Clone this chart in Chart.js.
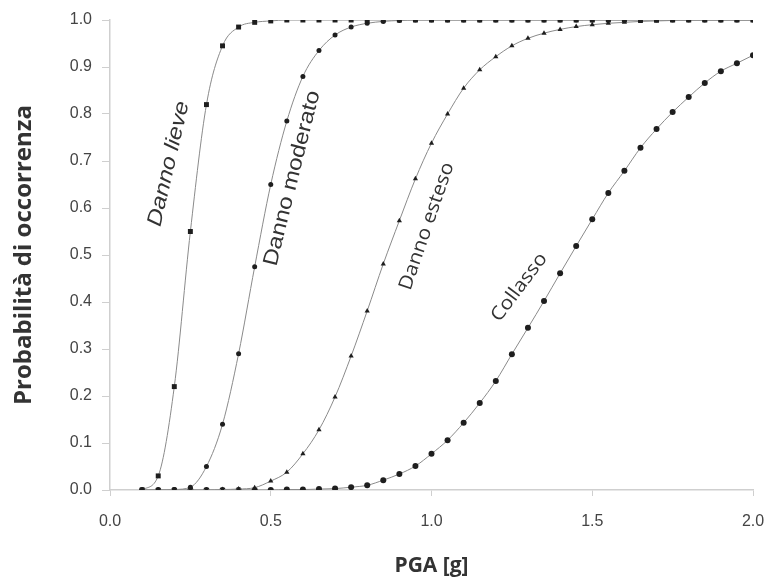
<!DOCTYPE html>
<html>
<head>
<meta charset="utf-8">
<script src="https://cdn.jsdelivr.net/npm/chart.js@4.4.0/dist/chart.umd.min.js"></script>
<style>
  html, body { margin: 0; padding: 0; background: #fff; }
  #wrap { width: 771px; height: 583px; }
</style>
</head>
<body>
<div id="wrap"><canvas id="grafico" width="771" height="583"></canvas></div>
<script>
// PGA [g]
const pga = [0.10,0.15,0.20,0.25,0.30,0.35,0.40,0.45,0.50,0.55,0.60,0.65,0.70,0.75,0.80,0.85,0.90,0.95,1.00,1.05,1.10,1.15,1.20,1.25,1.30,1.35,1.40,1.45,1.50,1.55,1.60,1.65,1.70,1.75,1.80,1.85,1.90,1.95,2.00];

const dannoLieve = [0.000,0.030,0.220,0.550,0.820,0.945,0.985,0.995,0.998,1,1,1,1,1,1,1,1,1,1,1,1,1,1,1,1,1,1,1,1,1,1,1,1,1,1,1,1,1,1];
const dannoModerato = [0.000,0.000,0.001,0.006,0.050,0.140,0.290,0.475,0.650,0.785,0.880,0.935,0.968,0.985,0.993,0.997,0.999,1,1,1,1,1,1,1,1,1,1,1,1,1,1,1,1,1,1,1,1,1,1];
const dannoEsteso = [0,0,0,0,0,0.001,0.002,0.005,0.019,0.038,0.077,0.128,0.198,0.285,0.381,0.481,0.573,0.662,0.738,0.800,0.855,0.894,0.922,0.945,0.961,0.972,0.980,0.986,0.990,0.993,0.995,0.997,0.998,0.999,1,1,1,1,1];
const collasso = [0,0,0,0,0,0,0,0,0,0.001,0.001,0.002,0.003,0.006,0.010,0.021,0.034,0.051,0.077,0.106,0.143,0.185,0.232,0.289,0.345,0.402,0.461,0.519,0.576,0.632,0.679,0.728,0.768,0.804,0.836,0.866,0.891,0.908,0.925];

const xTicks = [0.0, 0.5, 1.0, 1.5, 2.0];

// etichette sulle curve (posizione in unità dei dati)
const etichette = [
  { testo: 'Danno lieve',    x: 0.183, y: 0.694, angolo: -77, font: 'italic 21px "Liberation Sans", Arial, sans-serif', allunga: 1.15 },
  { testo: 'Danno moderato', x: 0.567, y: 0.663, angolo: -76, font: '21px "Liberation Sans", Arial, sans-serif', allunga: 1.15 },
  { testo: 'Danno esteso',   x: 0.986, y: 0.561, angolo: -71, font: '19px "Open Sans", sans-serif', allunga: 1.1 },
  { testo: 'Collasso',       x: 1.273, y: 0.431, angolo: -53, font: '19px "Open Sans", sans-serif', allunga: 1.1 }
];

function serie(valori) {
  return pga.map((x, i) => ({ x: x, y: valori[i] }));
}

function dataset(label, valori, stile, raggio) {
  return {
    label: label,
    data: serie(valori),
    borderColor: '#8a8a8a',
    borderWidth: 1,
    pointStyle: stile,
    pointRadius: raggio,
    pointBackgroundColor: '#1e1e1e',
    pointBorderColor: '#1e1e1e',
    pointBorderWidth: 0,
    cubicInterpolationMode: 'monotone',
    fill: false
  };
}

const etichettePlugin = {
  id: 'etichette',
  afterDatasetsDraw(chart) {
    const ctx = chart.ctx;
    const sx = chart.scales.x, sy = chart.scales.y;
    etichette.forEach(e => {
      ctx.save();
      ctx.translate(sx.getPixelForValue(e.x), sy.getPixelForValue(e.y));
      ctx.rotate(e.angolo * Math.PI / 180);
      ctx.scale(e.allunga, 1);
      ctx.font = e.font;
      ctx.fillStyle = '#333';
      ctx.textAlign = 'center';
      ctx.textBaseline = 'middle';
      ctx.fillText(e.testo, 0, 0);
      ctx.restore();
    });
  }
};

const graficoCtx = document.getElementById('grafico').getContext('2d');

new Chart(graficoCtx, {
  type: 'line',
  data: {
    datasets: [
      dataset('Danno lieve', dannoLieve, 'rect', 3.5),
      dataset('Danno moderato', dannoModerato, 'circle', 2.5),
      dataset('Danno esteso', dannoEsteso, 'triangle', 3),
      dataset('Collasso', collasso, 'circle', 3)
    ]
  },
  options: {
    responsive: false,
    animation: false,
    layout: { padding: { top: 20, right: 18, left: 0, bottom: 0 } },
    plugins: { legend: { display: false }, tooltip: { enabled: false } },
    scales: {
      x: {
        type: 'linear',
        min: 0, max: 2,
        afterFit: s => { s.height = 93; s.paddingLeft = 0; s.paddingRight = 0; },
        afterBuildTicks: s => { s.ticks = xTicks.map(v => ({ value: v })); },
        border: { color: '#cfcfcf', width: 1.5 },
        grid: { drawOnChartArea: false, drawTicks: true, tickLength: 6, color: '#cfcfcf' },
        ticks: {
          padding: 16,
          color: '#444',
          font: { family: '"Liberation Sans", Arial, sans-serif', size: 16 },
          callback: v => v.toFixed(1)
        },
        title: {
          display: true,
          text: 'PGA [g]',
          color: '#333',
          font: { family: '"Open Sans", sans-serif', size: 21, weight: 'bold' },
          padding: { top: 0, bottom: 4 }
        }
      },
      y: {
        min: 0, max: 1,
        afterFit: s => { s.width = 110; s.paddingTop = 0; s.paddingBottom = 0; },
        border: { color: '#cfcfcf', width: 1.5 },
        grid: { drawOnChartArea: false, drawTicks: true, tickLength: 8, color: '#cfcfcf' },
        ticks: {
          stepSize: 0.1,
          padding: 10,
          color: '#444',
          font: { family: '"Liberation Sans", Arial, sans-serif', size: 16 },
          callback: v => v.toFixed(1)
        },
        title: {
          display: true,
          text: 'Probabilità di occorrenza',
          color: '#333',
          font: { family: '"Open Sans", sans-serif', size: 24, weight: 'bold' },
          padding: { top: 10, bottom: 0 }
        }
      }
    }
  },
  plugins: [etichettePlugin]
});
</script>
</body>
</html>
